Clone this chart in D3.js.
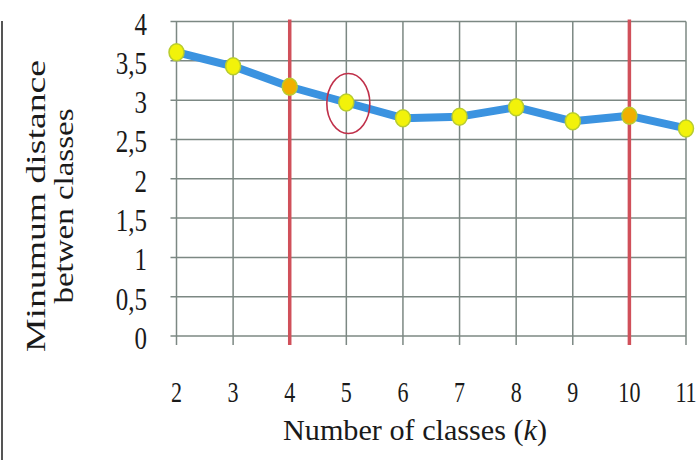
<!DOCTYPE html>
<html><head><meta charset="utf-8">
<script src="https://cdn.jsdelivr.net/npm/d3@7"></script>
<style>body{margin:0;background:#fff}svg{display:block}</style>
</head><body>
<svg id="c" width="700" height="460"></svg>
<script>
const categories = [2, 3, 4, 5, 6, 7, 8, 9, 10, 11];
const values = [3.61, 3.43, 3.17, 2.97, 2.77, 2.79, 2.91, 2.73, 2.80, 2.64];
const yTicks = [0, 0.5, 1, 1.5, 2, 2.5, 3, 3.5, 4];
const yTickLabels = ["0", "0,5", "1", "1,5", "2", "2,5", "3", "3,5", "4"];
const markedK = [4, 10];
const highlightK = 5;

const svg = d3.select("#c");
const x = d3.scaleLinear().domain([2, 11]).range([176.5, 686]);
const y = d3.scaleLinear().domain([0, 4]).range([336, 21.5]);
const serif = "'Liberation Serif','DejaVu Serif',serif";
const gridCol = "#7c8883";
const textCol = "#1a1a1a";

// left border line
svg.append("line").attr("x1", 2).attr("x2", 2).attr("y1", 21).attr("y2", 460)
  .attr("stroke", "#555").attr("stroke-width", 2);

// horizontal grid
svg.append("g").selectAll("line").data(yTicks).join("line")
  .attr("x1", x(2) - 6).attr("x2", x(11))
  .attr("y1", d => y(d)).attr("y2", d => y(d))
  .attr("stroke", gridCol).attr("stroke-width", 1.5);
// vertical grid
svg.append("g").selectAll("line").data(categories).join("line")
  .attr("x1", d => x(d)).attr("x2", d => x(d))
  .attr("y1", y(4)).attr("y2", y(0) + 9)
  .attr("stroke", gridCol).attr("stroke-width", 1.5);

// red vertical markers
svg.append("g").selectAll("line").data(markedK).join("line")
  .attr("x1", d => x(d)).attr("x2", d => x(d))
  .attr("y1", y(4) - 2).attr("y2", y(0) + 9)
  .attr("stroke", "#d0505a").attr("stroke-width", 3.5);

// y axis labels
svg.append("g").selectAll("text").data(yTicks).join("text")
  .attr("transform", d => `translate(147,${y(d) + 13}) scale(0.78,1)`)
  .attr("text-anchor", "end")
  .attr("font-family", serif).attr("font-size", 32)
  .attr("fill", textCol)
  .text((d, i) => yTickLabels[i]);

// x axis labels
svg.append("g").selectAll("text").data(categories).join("text")
  .attr("transform", d => `translate(${x(d)},402) scale(0.76,1)`)
  .attr("text-anchor", "middle")
  .attr("font-family", serif).attr("font-size", 29)
  .attr("fill", textCol)
  .text(d => d);

// line
const line = d3.line().x((d, i) => x(categories[i])).y(d => y(d));
svg.append("path").datum(values).attr("d", line)
  .attr("fill", "none").attr("stroke", "#3b93e0")
  .attr("stroke-width", 8).attr("stroke-linejoin", "round").attr("stroke-linecap", "round");

// markers
svg.append("g").selectAll("ellipse").data(values).join("ellipse")
  .attr("cx", (d, i) => x(categories[i])).attr("cy", d => y(d))
  .attr("rx", 7.5).attr("ry", 8.5)
  .attr("fill", (d, i) => markedK.includes(categories[i]) ? "#f0b000" : "#f2f20a")
  .attr("stroke", "#b8cc30").attr("stroke-width", 1.5);

// highlight ellipse
const hi = categories.indexOf(highlightK);
svg.append("ellipse")
  .attr("cx", x(highlightK) + 2).attr("cy", y(values[hi]) + 1)
  .attr("rx", 21.5).attr("ry", 30)
  .attr("fill", "none").attr("stroke", "#c0304a").attr("stroke-width", 1.6);

// x title
const xt = svg.append("text").attr("x", 415).attr("y", 440)
  .attr("text-anchor", "middle").attr("font-family", serif).attr("font-size", 29)
  .attr("textLength", 264).attr("lengthAdjust", "spacingAndGlyphs")
  .attr("fill", textCol);
xt.append("tspan").text("Number of classes (");
xt.append("tspan").attr("font-style", "italic").text("k");
xt.append("tspan").text(")");

// y title
const yt = svg.append("g").attr("transform", "translate(0,206) rotate(-90)");
yt.append("text").attr("x", 0).attr("y", 45)
  .attr("text-anchor", "middle").attr("font-family", serif).attr("font-size", 27)
  .attr("textLength", 292).attr("lengthAdjust", "spacingAndGlyphs")
  .attr("fill", textCol).text("Minumum distance");
yt.append("text").attr("x", 0).attr("y", 73)
  .attr("text-anchor", "middle").attr("font-family", serif).attr("font-size", 27)
  .attr("textLength", 195).attr("lengthAdjust", "spacingAndGlyphs")
  .attr("fill", textCol).text("betwen classes");
</script>
</body></html>
